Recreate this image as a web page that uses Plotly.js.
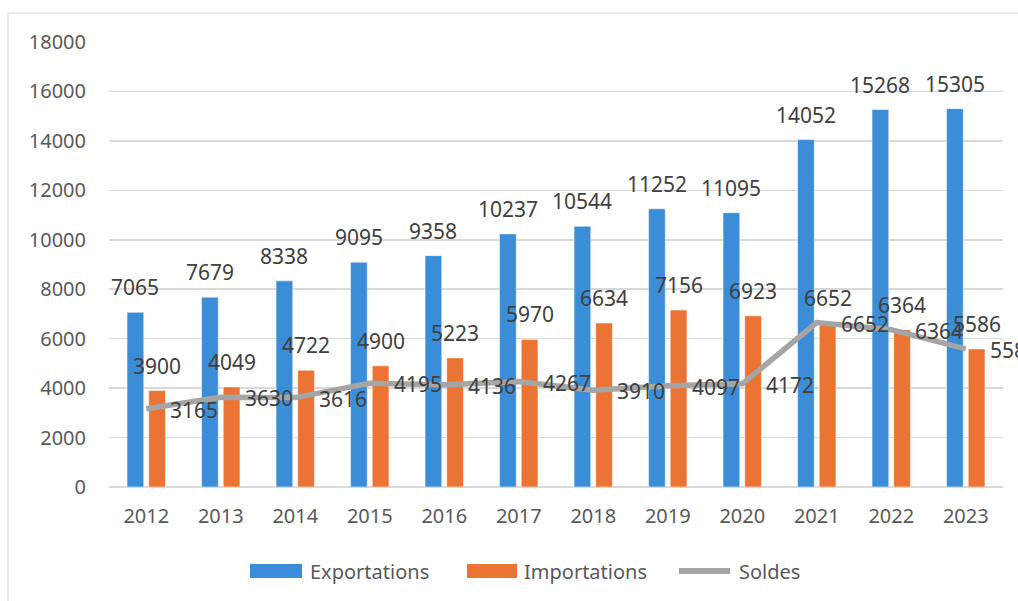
<!DOCTYPE html>
<html>
<head>
<meta charset="utf-8">
<script src="https://cdn.plot.ly/plotly-3.0.1.min.js"></script>
<style>html,body{margin:0;padding:0;background:#fff;}#chart{width:1018px;height:601px;}</style>
</head>
<body>
<div id="chart"></div>
<script>
var years = ['2012','2013','2014','2015','2016','2017','2018','2019','2020','2021','2022','2023'];
var exportations = [7065, 7679, 8338, 9095, 9358, 10237, 10544, 11252, 11095, 14052, 15268, 15305];
var importations = [3900, 4049, 4722, 4900, 5223, 5970, 6634, 7156, 6923, 6652, 6364, 5586];
var soldes = [3165, 3630, 3616, 4195, 4136, 4267, 3910, 4097, 4172, 6652, 6364, 5586];
var seriesNames = ['Exportations', 'Importations', 'Soldes'];
var yTicks = [0, 2000, 4000, 6000, 8000, 10000, 12000, 14000, 16000, 18000];

var W = 1018, H = 601;
var M = {l: 109, r: 15, t: 42, b: 114};
var PW = W - M.l - M.r, PH = H - M.t - M.b;
function px(x) { return (x - M.l) / PW; }
function py(y) { return (H - M.b - y) / PH; }

var FONT = 'Noto Sans, Open Sans, sans-serif';
var BLUE = '#3C8DD7', ORANGE = '#EB7333', GRAY = '#A5A5A5';
var LBL = '#404040', TICK = '#595959';

var traces = [
  {type: 'bar', name: seriesNames[0], x: years, y: exportations,
   marker: {color: BLUE, line: {color: 'rgba(255,255,255,0.5)', width: 1}}, hoverinfo: 'x+y'},
  {type: 'bar', name: seriesNames[1], x: years, y: importations,
   marker: {color: ORANGE, line: {color: 'rgba(255,255,255,0.5)', width: 1}}, hoverinfo: 'x+y'},
  {type: 'scatter', mode: 'lines', name: seriesNames[2], x: years, y: soldes,
   line: {color: GRAY, width: 5.5}, hoverinfo: 'x+y'}
];

var annotations = [];
years.forEach(function (yr, i) {
  annotations.push({x: i, y: exportations[i], xref: 'x', yref: 'y', text: String(exportations[i]),
    showarrow: false, xanchor: 'center', yanchor: 'middle', xshift: -11, yshift: 25,
    font: {family: FONT, size: 21, color: LBL}});
  annotations.push({x: i, y: importations[i], xref: 'x', yref: 'y', text: String(importations[i]),
    showarrow: false, xanchor: 'center', yanchor: 'middle', xshift: 11, yshift: 25,
    font: {family: FONT, size: 21, color: LBL}});
  annotations.push({x: i, y: soldes[i], xref: 'x', yref: 'y', text: String(soldes[i]),
    showarrow: false, xanchor: 'left', yanchor: 'middle', xshift: 22, yshift: -1,
    font: {family: FONT, size: 21, color: LBL}});
});

// custom legend
var legY = 571;
var legendItems = [
  {name: seriesNames[0], kind: 'rect', color: BLUE, x0: 250, x1: 302, tx: 308},
  {name: seriesNames[1], kind: 'rect', color: ORANGE, x0: 467, x1: 517, tx: 522},
  {name: seriesNames[2], kind: 'line', color: GRAY, x0: 679, x1: 730, tx: 737}
];
var shapes = [
  {type: 'rect', xref: 'paper', yref: 'paper', x0: px(8), x1: px(1040), y0: py(640), y1: py(13),
   line: {color: '#D9D9D9', width: 1}, fillcolor: 'rgba(0,0,0,0)', layer: 'below'}
];
legendItems.forEach(function (it) {
  if (it.kind === 'rect') {
    shapes.push({type: 'rect', xref: 'paper', yref: 'paper', x0: px(it.x0), x1: px(it.x1),
      y0: py(legY + 7), y1: py(legY - 7), fillcolor: it.color, line: {width: 0}});
  } else {
    shapes.push({type: 'line', xref: 'paper', yref: 'paper', x0: px(it.x0), x1: px(it.x1),
      y0: py(legY), y1: py(legY), line: {color: it.color, width: 6}});
  }
  annotations.push({xref: 'paper', yref: 'paper', x: px(it.tx), y: py(legY), text: it.name,
    showarrow: false, xanchor: 'left', yanchor: 'middle',
    font: {family: FONT, size: 20, color: TICK}});
});

var layout = {
  width: W, height: H,
  margin: M,
  paper_bgcolor: '#fff', plot_bgcolor: '#fff',
  showlegend: false,
  barmode: 'group', bargap: 0.418, bargroupgap: 0.23,
  font: {family: FONT, size: 20, color: TICK},
  xaxis: {type: 'category', categoryorder: 'array', categoryarray: years,
    range: [-0.5, years.length - 0.5], autorange: false,
    showgrid: false, showline: false, zeroline: false,
    ticks: '', ticklabelstandoff: 15, tickfont: {family: FONT, size: 20, color: TICK}},
  yaxis: {range: [0, 18000], autorange: false, tickvals: yTicks, ticktext: yTicks.map(String),
    showgrid: true, gridcolor: '#D9D9D9', gridwidth: 1.5, zeroline: true, zerolinecolor: '#D9D9D9', zerolinewidth: 1.5,
    showline: false, ticks: '', ticklabelstandoff: 22, tickfont: {family: FONT, size: 20, color: TICK}},
  annotations: annotations,
  shapes: shapes
};

Plotly.newPlot('chart', traces, layout, {displayModeBar: false, staticPlot: true});
</script>
</body>
</html>
